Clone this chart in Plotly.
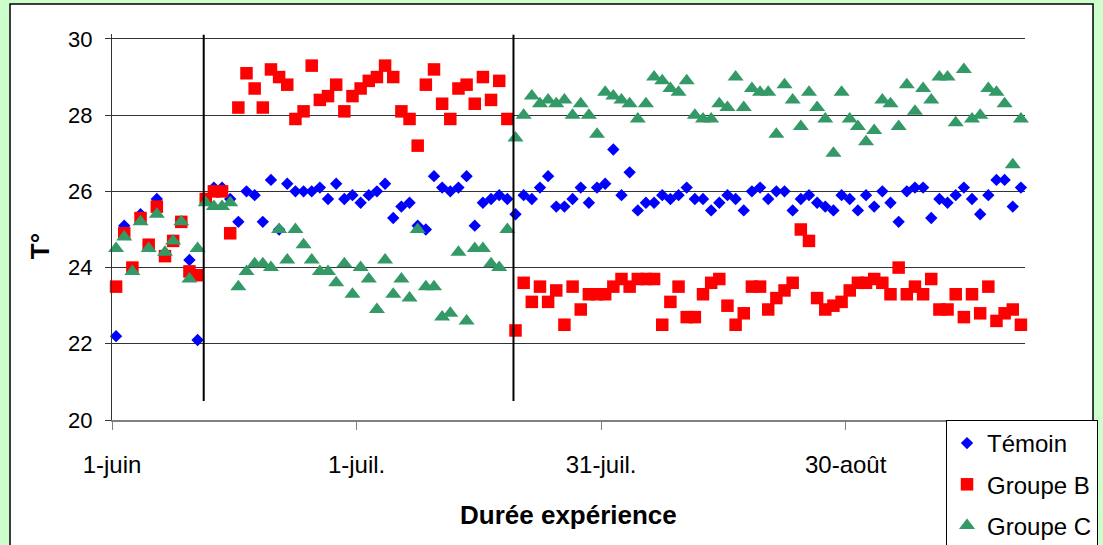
import pandas as pd
import plotly.graph_objects as go

# Daily readings, one per day starting 1 June (readings taken at midday)
dates = pd.date_range("2008-06-01 12:00", periods=112, freq="D")

temoin = [
    22.2, 25.1, 24.0, 25.4, 24.6, 25.8, 24.3, 24.7, 25.2, 24.2,
    22.1, 25.8, 26.1, 26.1, 25.8, 25.2, 26.0, 25.9, 25.2, 26.3,
    25.0, 26.2, 26.0, 26.0, 26.0, 26.1, 25.8, 26.2, 25.8, 25.9,
    25.7, 25.9, 26.0, 26.2, 25.3, 25.6, 25.7, 25.1, 25.0, 26.4,
    26.1, 26.0, 26.1, 26.4, 25.1, 25.7, 25.8, 25.9, 25.8, 25.4,
    25.9, 25.8, 26.1, 26.4, 25.6, 25.6, 25.8, 26.1, 25.7, 26.1,
    26.2, 27.1, 25.9, 26.5, 25.5, 25.7, 25.7, 25.9, 25.8, 25.9,
    26.1, 25.8, 25.8, 25.5, 25.7, 25.9, 25.8, 25.5, 26.0, 26.1,
    25.8, 26.0, 26.0, 25.5, 25.8, 25.9, 25.7, 25.6, 25.5, 25.9,
    25.8, 25.5, 25.9, 25.6, 26.0, 25.7, 25.2, 26.0, 26.1, 26.1,
    25.3, 25.8, 25.7, 25.9, 26.1, 25.8, 25.4, 25.9, 26.3, 26.3,
    25.6, 26.1,
]

groupe_b = [
    23.5, 24.9, 24.0, 25.3, 24.6, 25.6, 24.3, 24.7, 25.2, 23.9,
    23.8, 25.8, 26.0, 26.0, 24.9, 28.2, 29.1, 28.7, 28.2, 29.2,
    29.0, 28.8, 27.9, 28.1, 29.3, 28.4, 28.5, 28.8, 28.1, 28.5,
    28.7, 28.9, 29.0, 29.3, 29.0, 28.1, 27.9, 27.2, 28.8, 29.2,
    28.3, 27.9, 28.7, 28.8, 28.3, 29.0, 28.4, 28.9, 27.9, 22.35,
    23.6, 23.1, 23.5, 23.1, 23.4, 22.5, 23.5, 22.9, 23.3, 23.3,
    23.3, 23.5, 23.7, 23.5, 23.7, 23.7, 23.7, 22.5, 23.1, 23.5,
    22.7, 22.7, 23.3, 23.6, 23.7, 23.0, 22.5, 22.8, 23.5, 23.5,
    22.9, 23.2, 23.4, 23.6, 25.0, 24.7, 23.2, 22.9, 23.0, 23.1,
    23.4, 23.6, 23.6, 23.7, 23.6, 23.3, 24.0, 23.3, 23.5, 23.3,
    23.7, 22.9, 22.9, 23.3, 22.7, 23.3, 22.8, 23.5, 22.6, 22.8,
    22.9, 22.5,
]

groupe_c = [
    24.5, 24.8, 23.9, 25.2, 24.5, 25.4, 24.4, 24.7, 25.2, 23.7,
    24.5, 25.7, 25.6, 25.6, 25.7, 23.5, 23.9, 24.1, 24.1, 24.0,
    25.0, 24.2, 25.0, 24.6, 24.2, 23.9, 23.9, 23.6, 24.1, 23.3,
    24.0, 23.7, 22.9, 24.2, 23.3, 23.7, 23.2, 25.0, 23.5, 23.5,
    22.7, 22.8, 24.4, 22.6, 24.5, 24.5, 24.1, 24.0, 25.0, 27.4,
    28.0, 28.5, 28.3, 28.4, 28.3, 28.4, 28.0, 28.3, 28.0, 27.5,
    28.6, 28.5, 28.4, 28.3, 27.9, 28.3, 29.0, 28.9, 28.7, 28.6,
    28.9, 28.0, 27.9, 27.9, 28.3, 28.2, 29.0, 28.2, 28.7, 28.6,
    28.6, 27.5, 28.8, 28.4, 27.7, 28.6, 28.2, 27.9, 27.0, 28.6,
    27.9, 27.7, 27.3, 27.6, 28.4, 28.3, 27.7, 28.8, 28.1, 28.7,
    28.4, 29.0, 29.0, 27.8, 29.2, 27.9, 28.0, 28.7, 28.6, 28.3,
    26.7, 27.9,
]

# Phase changes of the experiment
phase_changes = ["2008-06-12 06:00", "2008-07-20 06:00"]

tick_dates = ["2008-06-01", "2008-07-01", "2008-07-31", "2008-08-30"]
tick_labels = ["1-juin", "1-juil.", "31-juil.", "30-août"]

FONT = "Liberation Sans, Arial, sans-serif"

fig = go.Figure()
series = [
    ("Témoin", temoin, "diamond", "#0000FF", 9.5),
    ("Groupe B", groupe_b, "square", "#FF0000", 12.5),
    ("Groupe C", groupe_c, "triangle-up", "#339966", 14),
]
for name, vals, sym, col, size in series:
    fig.add_trace(go.Scatter(
        x=dates, y=vals, name=name, mode="markers",
        legendgroup=name, cliponaxis=False,
        marker=dict(symbol=sym, color=col, size=size, line=dict(width=0)),
    ))

# Phase separators
for d in phase_changes:
    fig.add_shape(type="line", xref="x", yref="y", x0=d, x1=d, y0=20.5, y1=30.11,
                  line=dict(color="black", width=2), layer="above")

# White chart panel with border
fig.add_shape(type="rect", xref="paper", yref="paper",
              x0=-0.1117, x1=1.0745, y0=-0.40, y1=1.0777,
              fillcolor="white", line=dict(color="black", width=1.5), layer="below")

fig.add_annotation(text="<b>T°</b>", xref="paper", yref="paper", x=-0.079, y=0.45,
                   xanchor="center", yanchor="middle", textangle=-90, showarrow=False,
                   font=dict(size=26, family=FONT, color="black"))
fig.add_annotation(text="<b>Durée expérience</b>", xref="paper", yref="paper", x=0.5, y=-0.246,
                   xanchor="center", yanchor="middle", showarrow=False,
                   font=dict(size=26, family=FONT, color="black"))

fig.update_xaxes(
    type="date", range=["2008-06-01", "2008-09-21"],
    tickvals=tick_dates, ticktext=tick_labels,
    ticks="outside", ticklen=8, tickcolor="#808080", tickwidth=1,
    showline=True, linecolor="#808080", linewidth=2,
    showgrid=False, zeroline=False,
    tickfont=dict(size=24, family=FONT, color="black"),
    ticklabelstandoff=14,
)
fig.update_yaxes(
    range=[20, 30.13], dtick=2, tick0=20,
    ticks="outside", ticklen=6, tickcolor="#333333",
    showline=True, linecolor="#333333", linewidth=1,
    showgrid=True, gridcolor="#333333", gridwidth=1, zeroline=False,
    tickfont=dict(size=22, family=FONT, color="black"),
    ticklabelstandoff=8,
)

fig.update_layout(
    width=1103, height=545,
    margin=dict(l=112, r=78, t=34, b=125, autoexpand=False),
    paper_bgcolor="#CCFFCC", plot_bgcolor="white",
    font=dict(family=FONT, color="black"),
    showlegend=True,
    legend=dict(x=0.9135, xanchor="left", y=0, yanchor="top",
                bgcolor="white", bordercolor="black", borderwidth=1,
                font=dict(size=24, family=FONT, color="black"),
                tracegroupgap=7, itemwidth=30),
)

fig.write_html("out.html")
